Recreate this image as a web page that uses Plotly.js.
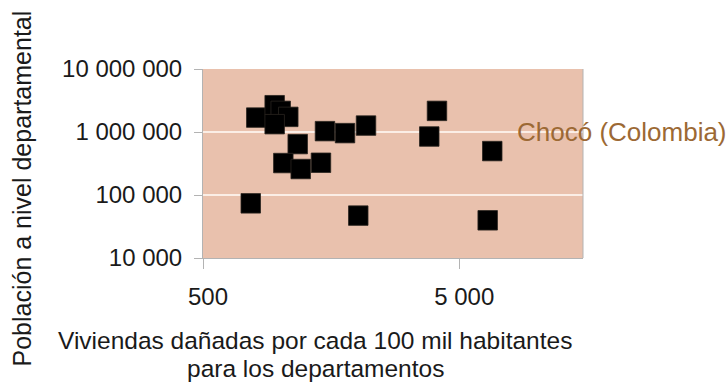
<!DOCTYPE html>
<html>
<head>
<meta charset="utf-8">
<script src="https://cdn.plot.ly/plotly-3.0.1.min.js"></script>
<style>
  html, body { margin: 0; padding: 0; background: #ffffff; }
  #chart { width: 728px; height: 382px; }
</style>
</head>
<body>
<div id="chart"></div>
<script>
// Damaged dwellings per 100k inhabitants vs. department population
const viviendasDanadas = [807, 952, 1005, 1076, 952, 1171, 1029, 1203, 1443, 1496, 1791, 2163, 4093, 3819, 6726, 768, 2018, 6455];
const poblacion = [1694000, 2662000, 2163000, 1738000, 1332000, 643000, 321500, 258400, 325000, 1032000, 960000, 1265000, 2163000, 848000, 498000, 73750, 47100, 39670];

const xTickVals = [500, 5000];
const xTickText = ["500", "5 000"];
const yTickVals = [10000, 100000, 1000000, 10000000];
const yTickText = ["10 000", "100 000", "1 000 000", "10 000 000"];

const serieNombre = "Chocó (Colombia)";
const tituloXLinea1 = "Viviendas dañadas por cada 100 mil habitantes";
const tituloXLinea2 = "para los departamentos";
const tituloY = "Población a nivel departamental";

const fontFam = "Liberation Sans, Arial, sans-serif";

const trace = {
  type: "scatter",
  mode: "markers",
  x: viviendasDanadas,
  y: poblacion,
  name: serieNombre,
  marker: {
    symbol: "square",
    size: 19.5,
    color: "#000000",
    line: { color: "#2a2420", width: 0.8 }
  },
  hoverinfo: "x+y"
};

// x-axis title lines are centred at this paper x
const tituloXCentro = (315 - 203) / 380;

const layout = {
  width: 728,
  height: 382,
  margin: { l: 203, r: 145, t: 69, b: 124 },
  paper_bgcolor: "#ffffff",
  plot_bgcolor: "#e9c1ad",
  showlegend: false,
  font: { family: fontFam, size: 24, color: "#1a1a1a" },
  xaxis: {
    type: "log",
    range: [Math.log10(500), Math.log10(15200)],
    tickvals: xTickVals,
    ticktext: xTickText,
    showgrid: false,
    zeroline: false,
    showline: true,
    linecolor: "#b3b3b3",
    linewidth: 1,
    ticks: "outside",
    ticklen: 10,
    tickcolor: "#b3b3b3",
    ticklabelstandoff: 7,
    ticklabelshift: 5,
    tickfont: { family: fontFam, size: 24, color: "#1a1a1a" }
  },
  yaxis: {
    type: "log",
    range: [4, 7],
    tickvals: yTickVals,
    ticktext: yTickText,
    showgrid: true,
    gridcolor: "#fbeee6",
    gridwidth: 1.2,
    zeroline: false,
    showline: true,
    linecolor: "#b3b3b3",
    linewidth: 1,
    ticks: "outside",
    ticklen: 8,
    tickcolor: "#b3b3b3",
    ticklabelstandoff: 7,
    tickfont: { family: fontFam, size: 24, color: "#1a1a1a" }
  },
  shapes: [
    { type: "line", xref: "paper", yref: "paper", x0: 1, x1: 1, y0: 0, y1: 1,
      line: { color: "#b3b3b3", width: 1 } }
  ],
  annotations: [
    {
      text: serieNombre,
      xref: "paper", yref: "y",
      x: (515 - 203) / 380, y: 6,
      xanchor: "left", yanchor: "middle",
      showarrow: false,
      font: { family: fontFam, size: 26, color: "#9c6934" }
    },
    {
      text: tituloXLinea1,
      xref: "paper", yref: "paper",
      x: tituloXCentro, y: 0, yshift: -82,
      xanchor: "center", yanchor: "middle",
      showarrow: false,
      font: { family: fontFam, size: 24.5, color: "#1a1a1a" }
    },
    {
      text: tituloXLinea2,
      xref: "paper", yref: "paper",
      x: tituloXCentro, y: 0, yshift: -110,
      xanchor: "center", yanchor: "middle",
      showarrow: false,
      font: { family: fontFam, size: 24.5, color: "#1a1a1a" }
    },
    {
      text: tituloY,
      xref: "paper", yref: "paper",
      x: 0, xshift: -182,
      y: 0.5, yshift: -25,
      xanchor: "center", yanchor: "middle",
      textangle: -90,
      showarrow: false,
      font: { family: fontFam, size: 25, color: "#1a1a1a" }
    }
  ]
};

Plotly.newPlot("chart", [trace], layout, { staticPlot: true, displayModeBar: false });
</script>
</body>
</html>
